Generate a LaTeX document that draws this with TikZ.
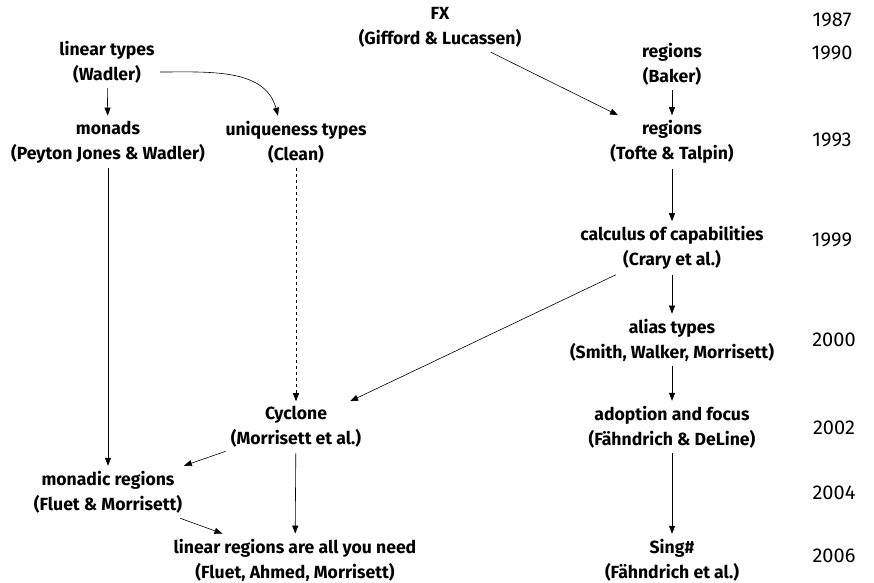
\documentclass[tikz,border=0pt]{standalone}
\usepackage{fontspec}
\setmainfont{Fira Sans}
\usepackage{tikz}
\usetikzlibrary{arrows.meta,positioning,calc}

\tikzset{
  work/.style={align=center, inner sep=5pt, font=\bfseries\fontsize{17.6}{25}\selectfont},
  year/.style={font=\fontsize{20}{22}\selectfont},
  arr/.style={-{Triangle[length=8pt,width=6pt]}, line width=0.6pt},
}

\begin{document}
\begin{tikzpicture}[x=1pt,y=-1pt]
  % canvas
  \useasboundingbox (0,0) rectangle (874,582);

  % left column
  \node[work] (lin)  at (107,62)  {linear types\\(Wadler)};
  \node[work] (mon)  at (108,142) {monads\\(Peyton Jones \& Wadler)};
  \node[work] (mreg) at (108,492) {monadic regions\\(Fluet \& Morrisett)};

  % middle column
  \node[work] (fx)   at (440,27)  {FX\\(Gifford \& Lucassen)};
  \node[work] (uniq) at (296,142) {uniqueness types\\(Clean)};
  \node[work] (cyc)  at (296,427) {Cyclone\\(Morrisett et al.)};
  \node[work] (lreg) at (295,560) {linear regions are all you need\\(Fluet, Ahmed, Morrisett)};

  % right column
  \node[work] (bak)  at (672,64)  {regions\\(Baker)};
  \node[work] (tt)   at (672,142) {regions\\(Tofte \& Talpin)};
  \node[work] (cap)  at (672,248) {calculus of capabilities\\(Crary et al.)};
  \node[work] (alias) at (672,340) {alias types\\(Smith, Walker, Morrisett)};
  \node[work] (adopt) at (672,427) {adoption and focus\\(F\"ahndrich \& DeLine)};
  \node[work] (sing) at (672,560) {Sing\#\\(F\"ahndrich et al.)};

  % time line
  \node[year] (y87) at (832,20)  {1987};
  \node[year] (y90) at (832,53)  {1990};
  \node[year] (y93) at (832,140) {1993};
  \node[year] (y99) at (832,240) {1999};
  \node[year] (y00) at (834,340) {2000};
  \node[year] (y02) at (834,428) {2002};
  \node[year] (y04) at (834,493) {2004};
  \node[year] (y06) at (834,556) {2006};

  % influences
  \draw[arr] (lin) -- (mon);
  \draw[arr] ([yshift=-10pt]lin.east) to[out=0,in=105] ([xshift=-18pt]uniq.north);
  \draw[arr] (mon) -- (mreg);
  \draw[arr, dashed] (uniq) -- (cyc);
  \draw[arr] (fx) -- (tt);
  \draw[arr] (bak) -- (tt);
  \draw[arr] (tt) -- (cap);
  \draw[arr] (cap) -- (cyc);
  \draw[arr] (cap) -- (alias);
  \draw[arr] (alias) -- (adopt);
  \draw[arr] (adopt) -- (sing);
  \draw[arr] (cyc) -- (mreg);
  \draw[arr] (cyc) -- (lreg);
  \draw[arr] (mreg) -- (lreg);
\end{tikzpicture}
\end{document}
